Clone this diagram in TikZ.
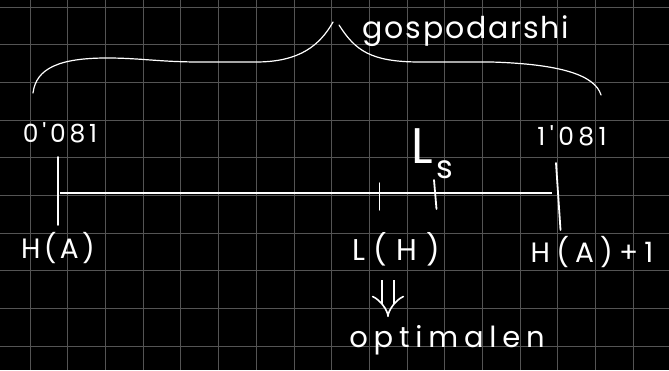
\documentclass[tikz,border=0pt]{standalone}
\usepackage{fontspec}
\newfontfamily\handfont{Poppins}
\usetikzlibrary{arrows.meta}
\tikzset{
  gridline/.style={draw=white!33!black, line width=0.8pt},
  chalk/.style={draw=white, line width=1.4pt, line cap=round},
  hand/.style={text=white, inner sep=0pt},
}
\begin{document}
\begin{tikzpicture}[x=1pt,y=-1pt]
\fill[black] (0,0) rectangle (669,370);
\useasboundingbox (0,0) rectangle (669,370);
% grid
\foreach \k in {0,...,16} \draw[gridline] ({30+37.7*\k},0) -- ({30+37.7*\k},370);
\foreach \k in {0,...,9} \draw[gridline] (0,{6.9+37.7*\k}) -- (669,{6.9+37.7*\k});
% brace
\draw[chalk, line width=1.2pt] (33,93) .. controls (36,68) and (60,58) .. (107,58)
  .. controls (140,58) and (160,62) .. (200,62) -- (256,62)
  .. controls (300,62) and (320,45) .. (333,22);
\draw[chalk, line width=1.2pt] (339,25) .. controls (355,50) and (370,62) .. (420,62)
  -- (491,62) .. controls (560,64) and (595,75) .. (601,95);
\node[hand, font=\handfont\fontsize{30}{32}\selectfont\addfontfeatures{LetterSpace=6}] (gosp) at (466,31) {gospodarshi};
% number line
\coordinate (a) at (60,193);
\coordinate (b) at (552,193);
\draw[chalk, line width=2pt, line cap=butt] (a) -- (b);
\draw[chalk, line width=1.8pt] (58,157) -- (58,225);
\draw[chalk, line width=1.8pt] (556,163) -- (560.5,230);
\draw[chalk] (379.5,183) -- (379.5,210);
\draw[chalk, line width=1.8pt] (434,180) -- (436.5,209);
% labels
\node[hand, font=\handfont\fontsize{25}{27}\selectfont\addfontfeatures{LetterSpace=15}] (l0) at (60,133) {0'081};
\node[hand, font=\handfont\fontsize{25}{27}\selectfont\addfontfeatures{LetterSpace=18}] (l1) at (572,136) {1'081};
\node[hand, font=\handfont\fontsize{28}{30}\selectfont\addfontfeatures{LetterSpace=12}] (ha) at (58,248) {H(A)};
\node[hand, font=\handfont\fontsize{30}{32}\selectfont\addfontfeatures{LetterSpace=30}] (lh) at (396,249) {L(H)};
\node[hand, font=\handfont\fontsize{28}{30}\selectfont\addfontfeatures{LetterSpace=22}] (ha1) at (592,252) {H(A)+1};
\node[hand, anchor=base west, font=\handfont\fontsize{50}{50}\selectfont] (ls) at (411,163) {L\hspace{4pt}\raisebox{-15pt}{\fontsize{32}{32}\selectfont s}};
\node[hand, font=\handfont\fontsize{29}{31}\selectfont\addfontfeatures{LetterSpace=20}] (opt) at (447,340) {optimalen};
% implication arrow
\draw[white, double=black, double distance=10pt, line width=1.6pt, -{Implies}] (lh.south) ++(-8,14) -- ++(0,37);
\end{tikzpicture}
\end{document}
